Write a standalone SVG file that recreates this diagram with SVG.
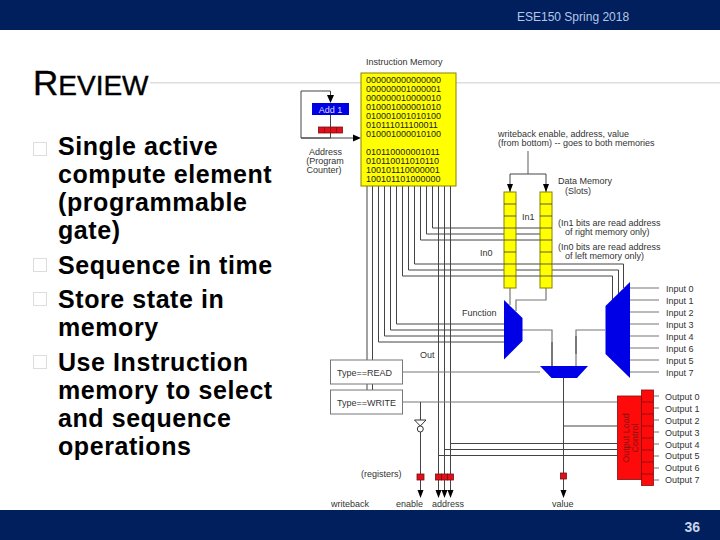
<svg xmlns="http://www.w3.org/2000/svg" width="720" height="540" viewBox="0 0 720 540">
<style>
text{font-family:"Liberation Sans",Arial,sans-serif}
.l{font-size:9px;fill:#333}
.bit{font-size:9px;fill:#222}
.h{font-size:25px;font-weight:bold;fill:#000;letter-spacing:.57px}
.w{fill:none;stroke:#444;stroke-width:1}
.g{fill:none;stroke:#777;stroke-width:1.2}
.red{fill:#e0101a;stroke:#7a1010;stroke-width:.8}
.yel{fill:#ffff00;stroke:#8a8000;stroke-width:1}
.blue{fill:#0000e6}
.box{fill:#fff;stroke:#777;stroke-width:1}
.bul{fill:#fff;stroke:#ddd;stroke-width:1}
</style>
<rect width="720" height="540" fill="#fff"/>
<g id="slide-frame">
<rect x="0" y="0" width="720" height="30" fill="#001f5c"/>
<rect x="0" y="510" width="720" height="30" fill="#001f5c"/>
<rect x="150" y="82" width="570" height="1.500" fill="#ddd"/>
<text x="517" y="21" font-size="12" fill="#b4c7e7">ESE150 Spring 2018</text>
<text x="684.500" y="532" font-size="14" font-weight="bold" fill="#c5d3ea">36</text>
</g>
<g id="title"><text x="33" y="95" fill="#000" stroke="#000" stroke-width=".4" font-size="35">R<tspan font-size="28">EVIEW</tspan></text></g>
<g id="bullets">
<rect class="bul" x="33.500" y="142.500" width="13" height="13"/>
<rect class="bul" x="33.500" y="258.500" width="13" height="13"/>
<rect class="bul" x="33.500" y="292.500" width="13" height="13"/>
<rect class="bul" x="33.500" y="355.500" width="13" height="13"/>
<text class="h" x="58" y="155">Single active</text>
<text class="h" x="58" y="183">compute element</text>
<text class="h" x="58" y="211">(programmable</text>
<text class="h" x="58" y="239">gate)</text>
<text class="h" x="58" y="274">Sequence in time</text>
<text class="h" x="58" y="308">Store state in</text>
<text class="h" x="58" y="336">memory</text>
<text class="h" x="58" y="371">Use Instruction</text>
<text class="h" x="58" y="399">memory to select</text>
<text class="h" x="58" y="427">and sequence</text>
<text class="h" x="58" y="455">operations</text>
</g>
<g id="connectors">
<path class="w" d="M330.500 133V138H301V91H330.500V96"/>
<path d="M327 95H334L330.500 103Z" fill="#000"/>
<path class="w" d="M330.500 115V127M301 138H355"/>
<path d="M353 134.500L361 138L353 141.500Z" fill="#000"/>
<path class="w" d="M367 186V360M372.500 186V360M367 384V390M372.500 384V390"/>
<path class="w" d="M378.500 186V342H504M384.500 186V336H504M390.500 186V330H504M396.500 186V324H504"/>
<path class="w" d="M402.500 186V276H612.500V300M408.500 186V270H618.500V294M414.500 186V264H623.500V288"/>
<path class="w" d="M420.500 186V240H540M426.500 186V234H540M432.500 186V228H540"/>
<path class="w" d="M438.500 186V490M444.500 186V490M450.500 186V490"/>
<path class="w" d="M450.500 443.500H617M444.500 449.500H617M438.500 455.500H617"/>
<path class="g" d="M528 151V174"/>
<path class="w" d="M510 192V174H546V192"/>
<path d="M507 184H513L510 192ZM543 184H549L546 192Z" fill="#000"/>
<path class="g" d="M510 288V305M546 288V300H516V311"/>
<path class="g" d="M522 330H552V366M576 366V330H605"/>
<path class="w" d="M552 342V366M576 336V354"/>
<path class="g" d="M630 288H659M630 300H659M630 312H659M630 324H659M630 336H659M630 348H659M630 360H659M630 372H659"/>
<path class="g" d="M402 372H540M402 402H617"/>
<path class="w" d="M563.500 378V490M563.500 426H617"/>
<path class="w" d="M420.500 402V420M420.500 432V490"/>
<path d="M417.500 490H423.500L420.500 498ZM435.500 490H441.500L438.500 498ZM441.500 490H447.500L444.500 498ZM447.500 490H453.500L450.500 498ZM560.500 490H566.500L563.500 498Z" fill="#000"/>
<path class="g" d="M654 396H659M654 408H659M654 420H659M654 432H659M654 444H659M654 456H659M654 468H659M654 480H659"/>
</g>
<g id="pc">
<rect x="312" y="103" width="37" height="12" fill="#0000e6"/>
<text x="330.500" y="113" text-anchor="middle" font-size="9" fill="#dde">Add 1</text>
<rect class="red" x="318.500" y="127" width="24" height="6"/>
<path d="M324.500 127V133M330.500 127V133M336.500 127V133" stroke="#7a1010" stroke-width=".7"/>
<text class="l" x="325.500" y="155" text-anchor="middle">Address</text>
<text class="l" x="325" y="164" text-anchor="middle">(Program</text>
<text class="l" x="324" y="173" text-anchor="middle">Counter)</text>
</g>
<g id="instruction-memory">
<text class="l" x="366" y="65">Instruction Memory</text>
<rect class="yel" x="361" y="73" width="95" height="113"/>
<text class="bit" x="366" y="83">000000000000000</text>
<text class="bit" x="366" y="92">000000001000001</text>
<text class="bit" x="366" y="101">000000010000010</text>
<text class="bit" x="366" y="110">010001000001010</text>
<text class="bit" x="366" y="119">010001001010100</text>
<text class="bit" x="366" y="128">010111011100011</text>
<text class="bit" x="366" y="137">010001000010100</text>
<text class="bit" x="366" y="155">010110000001011</text>
<text class="bit" x="366" y="164">010110011010110</text>
<text class="bit" x="366" y="173">100101110000001</text>
<text class="bit" x="366" y="182">100101101000000</text>
</g>
<g id="data-memory-left">
<rect class="yel" x="504" y="192" width="12" height="96"/>
<path d="M504 204H516M504 216H516M504 228H516M504 240H516M504 252H516M504 264H516M504 276H516" stroke="#333" stroke-width=".8"/>
</g>
<g id="data-memory-right">
<rect class="yel" x="540" y="192" width="12" height="96"/>
<path d="M540 204H552M540 216H552M540 228H552M540 240H552M540 252H552M540 264H552M540 276H552" stroke="#333" stroke-width=".8"/>
</g>
<g id="muxes">
<polygon class="blue" points="504,300 522.500,318 522.500,341 504,359.500"/>
<polygon class="blue" points="605.500,306 630,282 630,378 605.500,354"/>
<polygon class="blue" points="540,366 588,366 577,378 551.500,378"/>
</g>
<g id="labels">
<text class="l" x="498" y="137">writeback enable, address, value</text>
<text class="l" x="498" y="146">(from bottom) -- goes to both memories</text>
<text class="l" x="558" y="184">Data Memory</text>
<text class="l" x="565" y="194">(Slots)</text>
<text class="l" x="522" y="220">In1</text>
<text class="l" x="558" y="226">(In1 bits are read address</text>
<text class="l" x="565" y="235">of right memory only)</text>
<text class="l" x="558" y="250">(In0 bits are read address</text>
<text class="l" x="565" y="259">of left memory only)</text>
<text class="l" x="480" y="256">In0</text>
<text class="l" x="462" y="316">Function</text>
<text class="l" x="420" y="358">Out</text>
<text class="l" x="361" y="477">(registers)</text>
<text class="l" x="331" y="507">writeback</text>
<text class="l" x="396" y="507">enable</text>
<text class="l" x="432" y="507">address</text>
<text class="l" x="552" y="507">value</text>
</g>
<g id="inputs">
<text class="l" x="666" y="292">Input 0</text>
<text class="l" x="666" y="304">Input 1</text>
<text class="l" x="666" y="316">Input 2</text>
<text class="l" x="666" y="328">Input 3</text>
<text class="l" x="666" y="340">Input 4</text>
<text class="l" x="666" y="352">Input 6</text>
<text class="l" x="666" y="364">Input 5</text>
<text class="l" x="666" y="376">Input 7</text>
</g>
<g id="type-read"><rect class="box" x="330.500" y="360" width="72" height="24"/><text class="l" x="337" y="376">Type==READ</text></g>
<g id="type-write"><rect class="box" x="330.500" y="390" width="72" height="24"/><text class="l" x="337" y="406">Type==WRITE</text></g>
<g id="inverter">
<path d="M414.500 420H426L420.300 426Z" fill="#fff" stroke="#333"/>
<circle cx="420.300" cy="429" r="3" fill="#fff" stroke="#333"/>
</g>
<g id="registers">
<rect class="red" x="417" y="474" width="7" height="6"/>
<rect class="red" x="435.500" y="474" width="6" height="6"/>
<rect class="red" x="441.500" y="474" width="6" height="6"/>
<rect class="red" x="447.500" y="474" width="6" height="6"/>
<rect class="red" x="560.500" y="473" width="6" height="6"/>
</g>
<g id="output-load-control">
<rect class="red" x="617.500" y="396" width="24" height="83.500" style="fill:#ff0a0a"/>
<text transform="translate(629,438) rotate(-90)" text-anchor="middle" font-size="9" fill="#8a1010">Output Load</text>
<text transform="translate(638,438) rotate(-90)" text-anchor="middle" font-size="9" fill="#8a1010">Control</text>
<rect class="red" x="641.500" y="390" width="12" height="95.500" style="fill:#ff0a0a"/>
<path d="M641.500 402H653.500M641.500 414H653.500M641.500 426H653.500M641.500 438H653.500M641.500 450H653.500M641.500 462H653.500M641.500 474H653.500" stroke="#7a1010" stroke-width=".8"/>
</g>
<g id="outputs">
<text class="l" x="665" y="400">Output 0</text>
<text class="l" x="665" y="412">Output 1</text>
<text class="l" x="665" y="424">Output 2</text>
<text class="l" x="665" y="436">Output 3</text>
<text class="l" x="665" y="448">Output 4</text>
<text class="l" x="665" y="459">Output 5</text>
<text class="l" x="665" y="471">Output 6</text>
<text class="l" x="665" y="483">Output 7</text>
</g>
</svg>
